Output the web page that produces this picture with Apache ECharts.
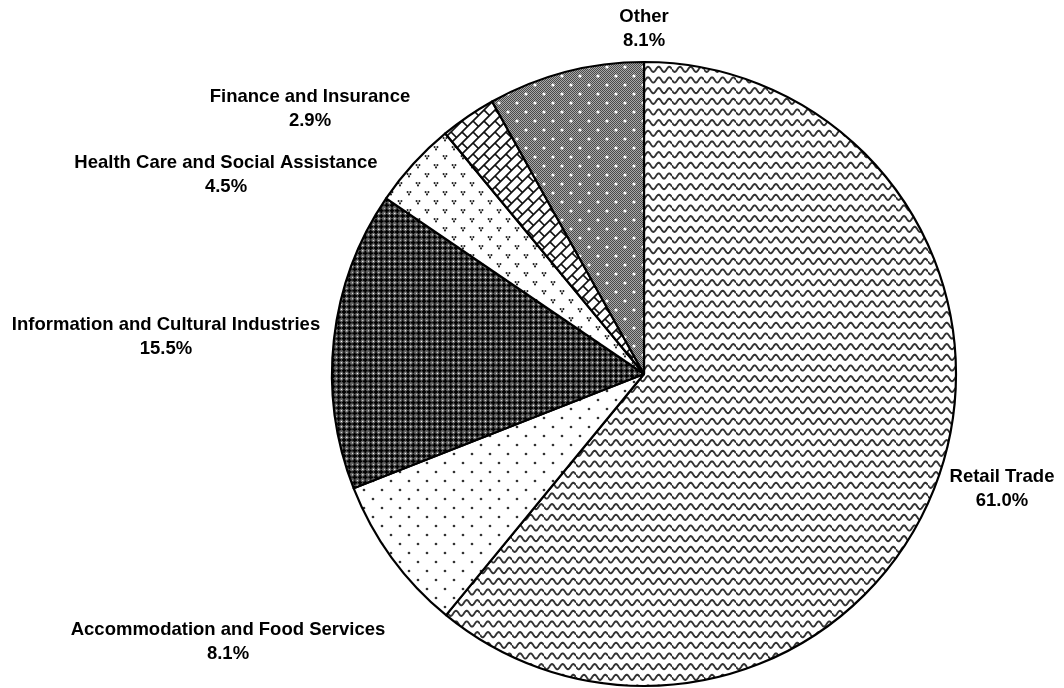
<!DOCTYPE html>
<html>
<head>
<meta charset="utf-8">
<script src="https://cdn.jsdelivr.net/npm/echarts@6/dist/echarts.min.js"></script>
<style>
html,body{margin:0;padding:0;background:#fff;}
#chart{width:1064px;height:688px;}
</style>
</head>
<body>
<div id="chart"></div>
<script>
// ---- data ----
const categories = [
  'Retail Trade',
  'Accommodation and Food Services',
  'Information and Cultural Industries',
  'Health Care and Social Assistance',
  'Finance and Insurance',
  'Other'
];
const shares = [61.0, 8.1, 15.5, 4.5, 2.9, 8.1];

// ---- label anchor positions (layout only) ----
const labelAnchors = [
  [1002, 489],
  [228, 642],
  [166, 337],
  [226, 175],
  [310, 109],
  [644, 29]
];

// ---- pattern builders (style only) ----
function mk(w, h) {
  const c = document.createElement('canvas');
  c.width = w; c.height = h;
  return c;
}
function wavePattern() {
  const s = 32, c = mk(s, s), g = c.getContext('2d');
  g.fillStyle = '#fff'; g.fillRect(0, 0, s, s);
  g.strokeStyle = '#333'; g.lineWidth = 1.9;
  const per = s / 3;
  for (let r = -1; r <= 3; r++) {
    const y0 = r * per + per / 2;
    g.beginPath();
    for (let x = 0; x <= s; x += 0.5) {
      const y = y0 + 2.6 * Math.sin(2 * Math.PI * x / per);
      if (x === 0) g.moveTo(x, y); else g.lineTo(x, y);
    }
    g.stroke();
  }
  return c;
}
function dotPattern(bg, fg, r) {
  const s = 18, c = mk(s, s), g = c.getContext('2d');
  g.fillStyle = bg; g.fillRect(0, 0, s, s);
  g.fillStyle = fg;
  [[4, 4], [13, 13]].forEach(p => {
    g.beginPath(); g.arc(p[0], p[1], r, 0, Math.PI * 2); g.fill();
  });
  return c;
}
function trefoilPattern() {
  const s = 18, c = mk(s, s), g = c.getContext('2d');
  g.fillStyle = '#fff'; g.fillRect(0, 0, s, s);
  g.fillStyle = '#222';
  [[4, 4], [13, 13]].forEach(p => {
    [[-1.4, -0.9], [1.4, -0.9], [0, 1.4]].forEach(d => {
      g.beginPath(); g.arc(p[0] + d[0], p[1] + d[1], 1.05, 0, Math.PI * 2); g.fill();
    });
  });
  return c;
}
function grayDotPattern() {
  const s = 18, c = mk(s, s), g = c.getContext('2d');
  for (let y = 0; y < s; y++) for (let x = 0; x < s; x++) {
    g.fillStyle = ((x + y) % 2 === 0) ? '#4a4a4a' : '#a8a8a8';
    g.fillRect(x, y, 1, 1);
  }
  g.fillStyle = '#fff';
  [[4, 4], [13, 13]].forEach(p => {
    g.beginPath(); g.arc(p[0], p[1], 1.6, 0, Math.PI * 2); g.fill();
  });
  return c;
}
function darkCrossPattern() {
  const s = 16, c = mk(s, s), g = c.getContext('2d');
  g.fillStyle = '#666'; g.fillRect(0, 0, s, s);
  const per = s / 3;
  for (let i = 0; i < 3; i++) for (let j = 0; j < 3; j++) {
    const cx = i * per + per / 2, cy = j * per + per / 2;
    g.fillStyle = '#000';
    g.fillRect(cx - 2.3, cy - 0.9, 4.6, 1.8);
    g.fillRect(cx - 0.9, cy - 2.3, 1.8, 4.6);
    g.fillStyle = '#fff';
    g.fillRect(i * per - 0.5, j * per - 0.5, 1.2, 1.2);
  }
  return c;
}
function brickPattern() {
  const s = 22, c = mk(s, s), g = c.getContext('2d');
  g.fillStyle = '#fff'; g.fillRect(0, 0, s, s);
  g.strokeStyle = '#111'; g.lineWidth = 1.7;
  const h = s / 2;
  for (let k = 0; k <= 4; k++) {
    g.beginPath(); g.moveTo(k * h - s - 2, s + 2); g.lineTo(k * h + 2, -2); g.stroke();
  }
  const seg = (x, y) => {
    g.beginPath(); g.moveTo(x, y); g.lineTo(x + h / 2, y + h / 2); g.stroke();
  };
  for (let ox = -s; ox <= s; ox += s) for (let oy = -s; oy <= s; oy += s) {
    seg(0 + ox, 0 + oy);
    seg(h + ox, h + oy);
    seg(h + ox, 0 + oy);
    seg(0 + ox, h + oy);
  }
  return c;
}

const fills = [
  wavePattern(),
  dotPattern('#fff', '#333', 1.35),
  darkCrossPattern(),
  trefoilPattern(),
  brickPattern(),
  grayDotPattern()
];

const chart = echarts.init(document.getElementById('chart'), null, { renderer: 'canvas' });
chart.setOption({
  animation: false,
  backgroundColor: '#fff',
  series: [{
    type: 'pie',
    center: [644, 374],
    radius: 312,
    startAngle: 90,
    clockwise: true,
    avoidLabelOverlap: false,
    data: categories.map((name, i) => ({
      name: name,
      value: shares[i],
      itemStyle: { color: { image: fills[i], repeat: 'repeat' } }
    })),
    itemStyle: { borderColor: '#000', borderWidth: 2.2 },
    label: {
      show: true,
      position: 'outside',
      formatter: p => p.name + '\n' + p.value.toFixed(1) + '%',
      fontFamily: '"Liberation Sans", Arial, sans-serif',
      fontWeight: 'bold',
      fontSize: 18.5,
      lineHeight: 24,
      color: '#000',
      align: 'center'
    },
    labelLine: { show: false },
    labelLayout: function (params) {
      const a = labelAnchors[params.dataIndex];
      return { x: a[0], y: a[1], align: 'center', verticalAlign: 'middle' };
    },
    emphasis: { disabled: true }
  }]
});
</script>
</body>
</html>
